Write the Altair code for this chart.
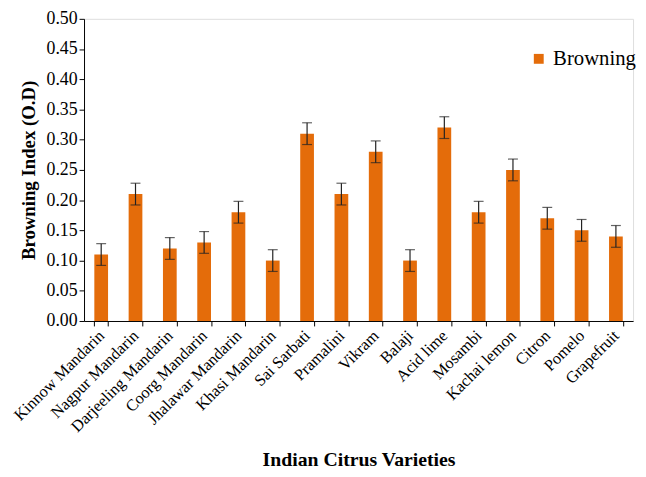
import altair as alt
import pandas as pd

varieties = ["Kinnow Mandarin", "Nagpur Mandarin", "Darjeeling Mandarin", "Coorg Mandarin",
             "Jhalawar Mandarin", "Khasi Mandarin", "Sai Sarbati", "Pramalini", "Vikram",
             "Balaji", "Acid lime", "Mosambi", "Kachai lemon", "Citron", "Pomelo", "Grapefruit"]
browning = [0.11, 0.21, 0.12, 0.13, 0.18, 0.10, 0.31, 0.21, 0.28, 0.10, 0.32, 0.18, 0.25, 0.17, 0.15, 0.14]
errors = [0.018] * 16
y_ticks = [0.0, 0.05, 0.10, 0.15, 0.20, 0.25, 0.30, 0.35, 0.40, 0.45, 0.50]

df = pd.DataFrame({"variety": varieties, "value": browning, "err": errors})
df["lo"] = df["value"] - df["err"]
df["hi"] = df["value"] + df["err"]
df["series"] = "Browning"

FONT = "Liberation Serif"
ORANGE = "#E46C0A"

xaxis = alt.Axis(labelAngle=-45, labelAlign="right", labelBaseline="middle",
                 labelFontSize=16.5, labelFont=FONT, labelColor="black",
                 labelOverlap=False, labelLimit=300,
                 titleFont=FONT, titleFontSize=20, titleFontWeight="bold",
                 titleColor="black", titleY=130, titleBaseline="top",
                 tickBand="extent", tickColor="black", domainColor="black",
                 tickSize=5, labelPadding=7)
yaxis = alt.Axis(values=y_ticks, format=".2f", tickCount=11,
                 grid=False, labelFont=FONT, labelFontSize=18, labelColor="black",
                 labelOverlap=False, labelFlush=False,
                 titleFont=FONT, titleFontSize=19, titleFontWeight="bold",
                 titleColor="black", tickColor="black", domainColor="black",
                 tickSize=5, titlePadding=8)
yscale = alt.Scale(domain=[0, 0.5], nice=False)
xscale = alt.Scale(paddingInner=0.6, paddingOuter=0.3)

X = alt.X("variety:N", sort=varieties, title="Indian Citrus Varieties", scale=xscale, axis=xaxis)

bars = alt.Chart(df).mark_bar().encode(
    x=X,
    y=alt.Y("value:Q", title="Browning Index (O.D)", scale=yscale, axis=yaxis),
    color=alt.Color("series:N", scale=alt.Scale(domain=["Browning"], range=[ORANGE]),
                    legend=alt.Legend(title=None, orient="none", legendX=450, legendY=30,
                                      labelFont=FONT, labelFontSize=21, labelColor="black",
                                      symbolType="square", symbolSize=100,
                                      symbolStrokeWidth=0)),
)

rules = alt.Chart(df).mark_rule(color="#222", strokeWidth=1.2).encode(
    x=X, y=alt.Y("lo:Q", title="Browning Index (O.D)", scale=yscale, axis=yaxis), y2="hi:Q")
caps_hi = alt.Chart(df).mark_tick(color="#222", thickness=1.2, size=10).encode(
    x=X, y=alt.Y("hi:Q", title="Browning Index (O.D)", scale=yscale, axis=yaxis))
caps_lo = alt.Chart(df).mark_tick(color="#222", thickness=1.2, size=10).encode(
    x=X, y=alt.Y("lo:Q", title="Browning Index (O.D)", scale=yscale, axis=yaxis))

chart = alt.layer(bars, rules, caps_hi, caps_lo).properties(
    width=556, height=306,
    autosize=alt.AutoSizeParams(type="none"),
    padding={"left": 77, "top": 8, "right": 5, "bottom": 155},
).configure_view(stroke=None).configure(background="white")

chart.save("out.html", embed_options={"renderer": "svg", "actions": False})
